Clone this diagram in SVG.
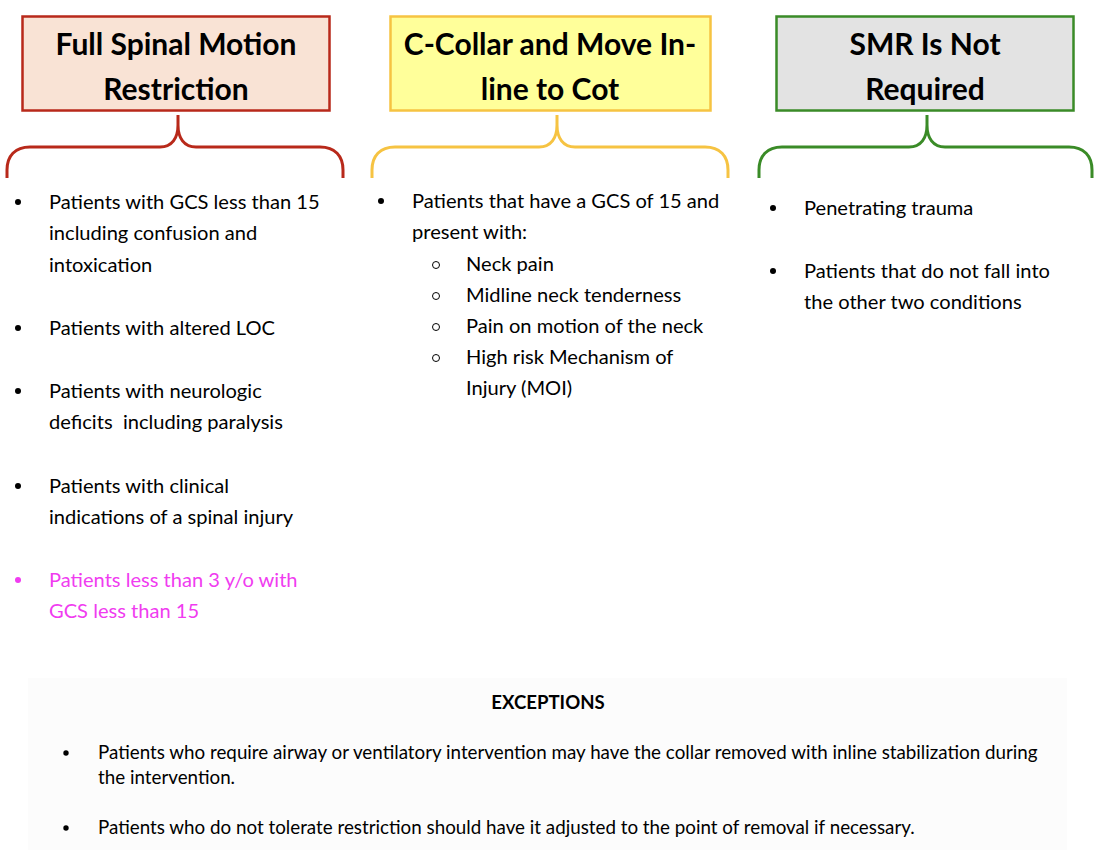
<svg xmlns="http://www.w3.org/2000/svg" width="1101" height="857" viewBox="0 0 1101 857">
<style>
.hd{font-family:Lato,"Liberation Sans",sans-serif;font-weight:bold;font-size:30px;fill:#000;text-anchor:middle}
.tx{font-family:Lato,"Liberation Sans",sans-serif;font-size:20.1px;fill:#000}
.ex{font-family:Lato,"Liberation Sans",sans-serif;font-size:18.8px;fill:#000}
.exh{font-family:Lato,"Liberation Sans",sans-serif;font-weight:bold;font-size:18.6px;fill:#000;text-anchor:middle}
.mg{fill:#F03CF0}
.brace{fill:none;stroke-width:3;stroke-linecap:butt}
.sub{fill:none;stroke:#000;stroke-width:1}
</style>
<rect width="1101" height="857" fill="#fff"/>
<g id="connectors">
<path class="brace" stroke="#B8291A" d="M7,178 L7,170 C7,156 15,147 30,147 L160,147 C172,147 178,138 178,125 L178,115 L178,125 C178,138 184,147 196,147 L320,147 C335,147 343,156 343,170 L343,178"/>
<path class="brace" stroke="#F6C342" d="M372,178 L372,170 C372,156 380,147 395,147 L539,147 C551,147 557,138 557,125 L557,115 L557,125 C557,138 563,147 575,147 L705,147 C720,147 728,156 728,170 L728,178"/>
<path class="brace" stroke="#3A8B27" d="M759,178 L759,170 C759,156 767,147 782,147 L909,147 C921,147 927,138 927,125 L927,115 L927,125 C927,138 933,147 945,147 L1069,147 C1084,147 1092,156 1092,170 L1092,178"/>
</g>
<g id="node-full">
<rect x="22.5" y="16.5" width="307" height="94" fill="#F9E3D5" stroke="#B8291A" stroke-width="2.5"/>
<text class="hd" x="176" y="55">Full Spinal Motion</text>
<text class="hd" x="176" y="100">Restriction</text>
</g>
<g id="node-collar">
<rect x="390.5" y="16.5" width="320" height="94" fill="#FFFF9A" stroke="#F6C342" stroke-width="2.5"/>
<text class="hd" x="550" y="55">C-Collar and Move In-</text>
<text class="hd" x="550" y="100">line to Cot</text>
</g>
<g id="node-smr">
<rect x="776.5" y="16.5" width="297" height="94" fill="#E3E3E3" stroke="#3A8B27" stroke-width="2.5"/>
<text class="hd" x="925" y="55">SMR Is Not</text>
<text class="hd" x="925" y="100">Required</text>
</g>
<g id="list-full">
<circle cx="18" cy="202" r="3"/>
<text class="tx" x="49" y="209">Patients with GCS less than 15</text>
<text class="tx" x="49" y="240">including confusion and</text>
<text class="tx" x="49" y="272">intoxication</text>
<circle cx="18" cy="328" r="3"/>
<text class="tx" x="49" y="335">Patients with altered LOC</text>
<circle cx="18" cy="391" r="3"/>
<text class="tx" x="49" y="398">Patients with neurologic</text>
<text class="tx" x="49" y="429" xml:space="preserve">deficits  including paralysis</text>
<circle cx="18" cy="486" r="3"/>
<text class="tx" x="49" y="493">Patients with clinical</text>
<text class="tx" x="49" y="524">indications of a spinal injury</text>
<circle cx="18" cy="580" r="3" class="mg"/>
<text class="tx mg" x="49" y="587">Patients less than 3 y/o with</text>
<text class="tx mg" x="49" y="618">GCS less than 15</text>
</g>
<g id="list-collar">
<circle cx="381" cy="201" r="3"/>
<text class="tx" x="412" y="208">Patients that have a GCS of 15 and</text>
<text class="tx" x="412" y="239">present with:</text>
<circle class="sub" cx="436" cy="265" r="3.5"/>
<text class="tx" x="466" y="271">Neck pain</text>
<circle class="sub" cx="436" cy="296" r="3.5"/>
<text class="tx" x="466" y="302">Midline neck tenderness</text>
<circle class="sub" cx="436" cy="327" r="3.5"/>
<text class="tx" x="466" y="333">Pain on motion of the neck</text>
<circle class="sub" cx="436" cy="358" r="3.5"/>
<text class="tx" x="466" y="364">High risk Mechanism of</text>
<text class="tx" x="466" y="395">Injury (MOI)</text>
</g>
<g id="list-smr">
<circle cx="773" cy="208" r="3"/>
<text class="tx" x="804" y="215">Penetrating trauma</text>
<circle cx="773" cy="271" r="3"/>
<text class="tx" x="804" y="278">Patients that do not fall into</text>
<text class="tx" x="804" y="309">the other two conditions</text>
</g>
<g id="exceptions">
<rect x="28" y="678" width="1039" height="172" fill="#FCFCFC"/>
<text class="exh" x="548" y="709">EXCEPTIONS</text>
<circle cx="66" cy="753" r="2.7"/>
<text class="ex" x="98" y="759">Patients who require airway or ventilatory intervention may have the collar removed with inline stabilization during</text>
<text class="ex" x="98" y="784">the intervention.</text>
<circle cx="66" cy="828" r="2.7"/>
<text class="ex" x="98" y="834">Patients who do not tolerate restriction should have it adjusted to the point of removal if necessary.</text>
</g>
</svg>
